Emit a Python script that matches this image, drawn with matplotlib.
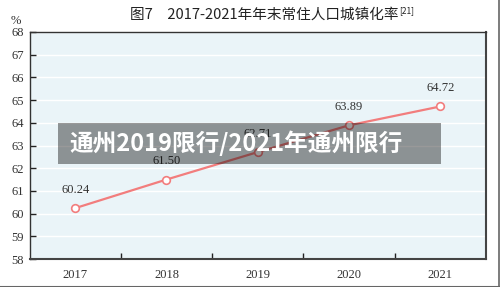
import matplotlib
matplotlib.use("Agg")
import matplotlib.pyplot as plt
from matplotlib.lines import Line2D
from matplotlib.patches import Rectangle

years = ["2017", "2018", "2019", "2020", "2021"]
rates = [60.24, 61.50, 62.71, 63.89, 64.72]
rate_labels = ["60.24", "61.50", "62.71", "63.89", "64.72"]
yticks = [58, 59, 60, 61, 62, 63, 64, 65, 66, 67, 68]

title_main = "图7　2017-2021年年末常住人口城镇化率"
title_sup = "[21]"
overlay_text = "通州2019限行/2021年通州限行"

cjk = ["Noto Sans CJK SC", "DejaVu Sans"]
serif = ["Liberation Serif", "DejaVu Serif"]

W, H = 500, 287
fig = plt.figure(figsize=(5.0, 2.87), dpi=100)
fig.patch.set_facecolor("white")

ax = fig.add_axes([29.5 / W, 1 - 259 / H, (486 - 29.5) / W, (259 - 32) / H])
ax.set_facecolor("#eaf4f8")

x = list(range(len(years)))
line_color = "#f27d7d"
ax.plot(x, rates, color=line_color, lw=1.6, marker="o", ms=5.5,
        mfc="white", mec=line_color, mew=1.2, zorder=3)
for xi, v, lab in zip(x, rates, rate_labels):
    ax.annotate(lab, (xi, v), xytext=(0, 13), textcoords="offset points",
                ha="center", va="center", fontsize=9, family=serif, color="#333333")

ax.set_xlim(-0.5, len(years) - 0.5)
ax.set_ylim(58, 68)
ax.set_yticks(yticks)
ax.set_yticklabels([str(t) for t in yticks], family=serif, fontsize=9, color="#333333")
ax.set_xticks(x)
ax.set_xticklabels(years, family=serif, fontsize=9, color="#333333")
ax.set_xticks([i + 0.5 for i in x[:-1]], minor=True)
ax.tick_params(axis="x", which="major", length=0, pad=7)
ax.tick_params(axis="x", which="minor", direction="in", length=4, width=1, color="#222222")
ax.tick_params(axis="y", which="major", direction="in", length=4, width=1, color="#222222", pad=4)
ax.yaxis.grid(True, color="white", lw=1)
ax.set_axisbelow(True)
for s in ["left", "top"]:
    ax.spines[s].set_color("#333333")
    ax.spines[s].set_linewidth(1.0)
for s in ["right", "bottom"]:
    ax.spines[s].set_color("#444444")
    ax.spines[s].set_linewidth(1.5)

# percent sign
fig.text(16 / W, 1 - 21 / H, "%", family=serif, fontsize=9, ha="center", va="center", color="#333333")

# title
t = fig.text(130 / W, 1 - 15 / H, title_main, family=cjk, fontsize=10.5, ha="left", va="center", color="#222222")
fig.canvas.draw()
bb = t.get_window_extent(renderer=fig.canvas.get_renderer())
fig.text(bb.x1 / W + 1 / W, 1 - 11 / H, title_sup, family=cjk, fontsize=6, ha="left", va="center", color="#222222")

# overlay banner
fig.patches.append(Rectangle((58 / W, 1 - 164 / H), (441 - 58) / W, (164 - 123) / H,
                             transform=fig.transFigure, facecolor="black", alpha=0.4,
                             edgecolor="none", zorder=5))
fig.text(69 / W, 1 - 143.5 / H, overlay_text, family=cjk, fontsize=17, fontweight="bold",
         color="white", ha="left", va="center", zorder=6)

# outer border (right & bottom)
fig.lines.append(Line2D([498.5 / W, 498.5 / W], [0, 1], transform=fig.transFigure, color="#666666", lw=1.2))
fig.lines.append(Line2D([0, 1], [0.5 / H, 0.5 / H], transform=fig.transFigure, color="#666666", lw=1.5))

fig.savefig("out.png", dpi=100, facecolor="white")
